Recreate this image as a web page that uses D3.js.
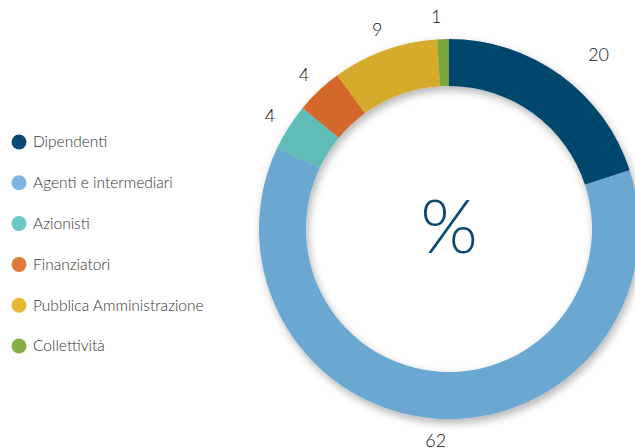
<!DOCTYPE html>
<meta charset="utf-8">
<style>
body { margin: 0; background: #fff; }
svg { display: block; }
.legend text { font: 300 15.5px "Lato", "DejaVu Sans", sans-serif; fill: #333; }
.val { font: 300 18px "Lato", "DejaVu Sans", sans-serif; fill: #111; }
.pct { font: 300 74px "Lato", "DejaVu Sans", sans-serif; fill: #0b4a70; }
</style>
<body>
<div id="chart"></div>
<script src="https://cdn.jsdelivr.net/npm/d3@7"></script>
<script>
// categories, in clockwise order from 12 o'clock
var categories = ["Dipendenti", "Agenti e intermediari", "Azionisti", "Finanziatori", "Pubblica Amministrazione", "Collettività"];
var values = [20, 62, 4, 4, 9, 1];
var sliceColors = ["#00466e", "#6ba8d1", "#5fbcb6", "#d4682a", "#d4ab2a", "#7aa63a"];
var legendColors = ["#0a4a72", "#7ab6e0", "#6cc8c2", "#e07a38", "#e4b832", "#84b040"];

var width = 635, height = 448;
var cx = 449, cy = 229, outerR = 190, innerR = 143;

var svg = d3.select("#chart").append("svg")
    .attr("width", width)
    .attr("height", height);

var defs = svg.append("defs");
defs.append("filter")
    .attr("id", "shadow")
    .attr("x", "-20%").attr("y", "-20%")
    .attr("width", "140%").attr("height", "140%")
  .append("feDropShadow")
    .attr("dx", 2).attr("dy", 4)
    .attr("stdDeviation", 4)
    .attr("flood-color", "#000")
    .attr("flood-opacity", 0.3);

var color = d3.scaleOrdinal().domain(categories).range(sliceColors);
var legendColor = d3.scaleOrdinal().domain(categories).range(legendColors);

var pie = d3.pie().sort(null).value(function(d, i) { return values[i]; });
var arcs = pie(categories);

var arc = d3.arc().innerRadius(innerR).outerRadius(outerR);
var labelArc = d3.arc().innerRadius(212).outerRadius(212);

var g = svg.append("g").attr("transform", "translate(" + cx + "," + cy + ")");

g.append("g")
    .attr("filter", "url(#shadow)")
  .selectAll("path")
  .data(arcs)
  .enter().append("path")
    .attr("d", arc)
    .attr("fill", function(d) { return color(d.data); });

// small nudges: the first label sits further out, the last one a bit left
var nudge = { "Dipendenti": [25, -3], "Collettività": [-6, 0] };

g.selectAll(".val")
  .data(arcs)
  .enter().append("text")
    .attr("class", "val")
    .attr("text-anchor", "middle")
    .attr("dy", "0.35em")
    .attr("transform", function(d) {
      var c = labelArc.centroid(d), n = nudge[d.data] || [0, 0];
      return "translate(" + (c[0] + n[0]) + "," + (c[1] + n[1]) + ")";
    })
    .text(function(d) { return d.value; });

g.append("text")
    .attr("class", "pct")
    .attr("text-anchor", "middle")
    .attr("dy", "0.35em")
    .attr("y", -2)
    .text("%");

// legend
var ly = d3.scalePoint().domain(categories).range([142, 346]);
var legend = svg.append("g").attr("class", "legend")
  .selectAll("g")
  .data(categories)
  .enter().append("g")
    .attr("transform", function(d) { return "translate(19," + ly(d) + ")"; });

legend.append("circle")
    .attr("r", 7.5)
    .attr("fill", function(d) { return legendColor(d); });

legend.append("text")
    .attr("x", 14)
    .attr("dy", "0.35em")
    .text(function(d) { return d; });
</script>
